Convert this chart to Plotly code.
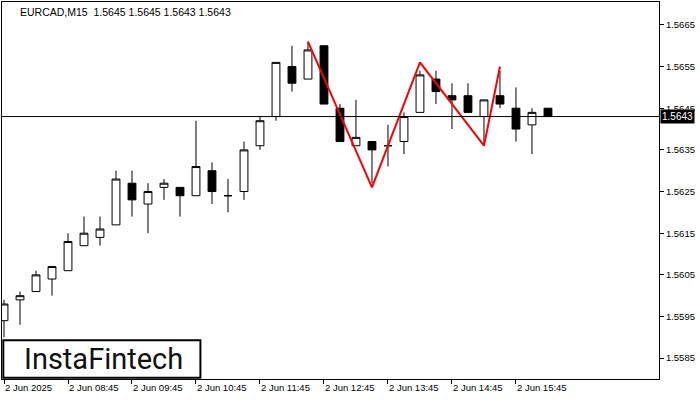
import plotly.graph_objects as go

# ---- data ----
tick_idx = [0, 4, 8, 12, 16, 20, 24, 28, 32]
tick_text = ["2 Jun 2025", "2 Jun 08:45", "2 Jun 09:45", "2 Jun 10:45", "2 Jun 11:45",
             "2 Jun 12:45", "2 Jun 13:45", "2 Jun 14:45", "2 Jun 15:45"]

opens  = [1.5594, 1.5599, 1.5601, 1.5604, 1.5606, 1.5612, 1.5614, 1.5617, 1.5627, 1.5622,
          1.5626, 1.5626, 1.5624, 1.5630, 1.5624, 1.5625, 1.5636, 1.5643, 1.5655, 1.5652,
          1.5660, 1.5645, 1.5636, 1.5637, 1.5636, 1.5637, 1.5644, 1.5652, 1.5648, 1.5648,
          1.5643, 1.5648, 1.5645, 1.5641, 1.5645]
highs  = [1.5599, 1.5601, 1.5606, 1.5607, 1.5615, 1.5619, 1.5619, 1.5630, 1.5630, 1.5627,
          1.5628, 1.5626, 1.5642, 1.5632, 1.5628, 1.5637, 1.5643, 1.5656, 1.5660, 1.5661,
          1.5660, 1.5646, 1.5647, 1.5637, 1.5641, 1.5644, 1.5654, 1.5654, 1.5651, 1.5651,
          1.5647, 1.5654, 1.5650, 1.5645, 1.5645]
lows   = [1.5590, 1.5593, 1.5601, 1.5600, 1.5606, 1.5612, 1.5612, 1.5617, 1.5619, 1.5615,
          1.5623, 1.5619, 1.5624, 1.5622, 1.5620, 1.5623, 1.5635, 1.5642, 1.5649, 1.5652,
          1.5646, 1.5637, 1.5636, 1.5627, 1.5631, 1.5634, 1.5644, 1.5646, 1.5640, 1.5644,
          1.5636, 1.5645, 1.5637, 1.5634, 1.5643]
closes = [1.5598, 1.5600, 1.5605, 1.5607, 1.5613, 1.5615, 1.5616, 1.5628, 1.5623, 1.5625,
          1.5627, 1.5624, 1.5631, 1.5625, 1.5624, 1.5635, 1.5642, 1.5656, 1.5651, 1.5659,
          1.5646, 1.5637, 1.5638, 1.5635, 1.5636, 1.5643, 1.5653, 1.5649, 1.5647, 1.5644,
          1.5647, 1.5646, 1.5640, 1.5644, 1.5643]

pattern_idx = [19, 23, 26, 30, 31]
pattern_price = [1.5661, 1.5626, 1.5656, 1.5636, 1.5655]

y_ticks = [1.5585, 1.5595, 1.5605, 1.5615, 1.5625, 1.5635, 1.5645, 1.5655, 1.5665]
last_price = 1.5643
title_text = "EURCAD,M15  1.5645 1.5645 1.5643 1.5643"

x = list(range(len(opens)))

fig = go.Figure()
fig.add_trace(go.Candlestick(
    x=x, open=opens, high=highs, low=lows, close=closes,
    increasing=dict(line=dict(color="black", width=1), fillcolor="white"),
    decreasing=dict(line=dict(color="black", width=1), fillcolor="black"),
    whiskerwidth=0, showlegend=False, hoverinfo="skip",
))
fig.add_trace(go.Scatter(
    x=pattern_idx, y=pattern_price, mode="lines",
    line=dict(color="#ff0000", width=2), showlegend=False, hoverinfo="skip",
))

fig.add_shape(type="line", xref="paper", x0=0, x1=1, yref="y", y0=last_price, y1=last_price,
              line=dict(color="black", width=1))

fig.add_annotation(xref="paper", x=1, xanchor="left", xshift=1, yref="y", y=last_price,
                   text="1.5643", showarrow=False, bgcolor="black",
                   font=dict(color="white", size=10, family="Liberation Sans"),
                   borderpad=1)

fig.add_annotation(xref="paper", yref="paper", x=0.024, y=0.995, xanchor="left", yanchor="top",
                   text=title_text, showarrow=False,
                   font=dict(color="black", size=10.5, family="Liberation Sans"))

# logo box
fig.add_shape(type="rect", xref="paper", yref="paper", x0=0.002, x1=0.302, y0=0.003, y1=0.103,
              line=dict(color="black", width=2), fillcolor="white", layer="above")
fig.add_annotation(xref="paper", yref="paper", x=0.155, y=0.053, xanchor="center", yanchor="middle",
                   text="InstaFintech", showarrow=False,
                   font=dict(color="#111111", size=29, family="Roboto"))

fig.update_layout(
    width=700, height=400,
    margin=dict(l=2, r=41, t=2, b=21),
    paper_bgcolor="white", plot_bgcolor="white",
    font=dict(family="Liberation Sans", size=10, color="black"),
    boxgap=0.3,
    xaxis=dict(
        range=[-0.125, 40.94], tickmode="array", tickvals=tick_idx, ticktext=tick_text,
        showgrid=False, zeroline=False, showline=True, linecolor="black", linewidth=1, mirror=True,
        ticks="outside", ticklen=4, tickcolor="black", ticklabelposition="outside right",
        rangeslider=dict(visible=False), tickfont=dict(size=9.5),
    ),
    yaxis=dict(
        range=[1.55800, 1.56705], side="right", tickmode="array", tickvals=y_ticks,
        ticktext=[f"{v:.4f}" for v in y_ticks],
        showgrid=False, zeroline=False, showline=True, linecolor="black", linewidth=1, mirror=True,
        ticks="outside", ticklen=4, tickcolor="black", tickfont=dict(size=9.5),
    ),
)

fig.write_html("out.html", config={"displayModeBar": False},
               post_script="document.body.style.margin='0';")
